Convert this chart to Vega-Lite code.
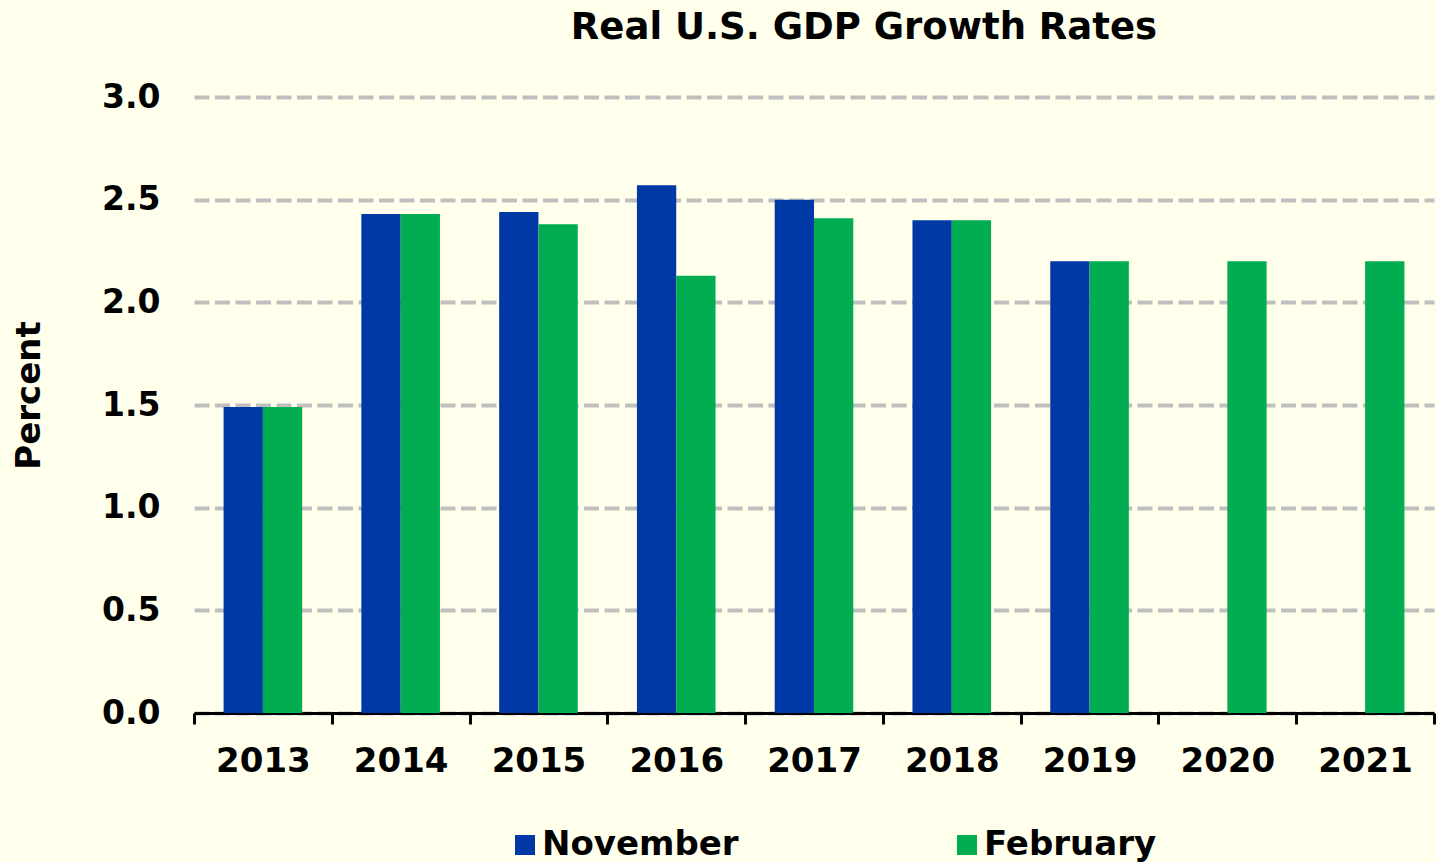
{
  "$schema": "https://vega.github.io/schema/vega-lite/v6.json",
  "autosize": {"type": "none"},
  "width": 1240,
  "height": 616,
  "padding": {"left": 194, "top": 97, "right": 3, "bottom": 149},
  "background": "#FFFFEC",
  "title": {
    "text": "Real U.S. GDP Growth Rates",
    "anchor": "middle",
    "dx": 50,
    "fontSize": 37,
    "font": "DejaVu Sans",
    "fontWeight": "bold",
    "color": "#000000",
    "baseline": "alphabetic",
    "offset": 5
  },
  "config": {
    "view": {"stroke": null},
    "font": "DejaVu Sans"
  },
  "data": {
    "values": [
      {"year": "2013", "series": "November", "value": 1.49},
      {"year": "2013", "series": "February", "value": 1.49},
      {"year": "2014", "series": "November", "value": 2.43},
      {"year": "2014", "series": "February", "value": 2.43},
      {"year": "2015", "series": "November", "value": 2.44},
      {"year": "2015", "series": "February", "value": 2.38},
      {"year": "2016", "series": "November", "value": 2.57},
      {"year": "2016", "series": "February", "value": 2.13},
      {"year": "2017", "series": "November", "value": 2.50},
      {"year": "2017", "series": "February", "value": 2.41},
      {"year": "2018", "series": "November", "value": 2.40},
      {"year": "2018", "series": "February", "value": 2.40},
      {"year": "2019", "series": "November", "value": 2.20},
      {"year": "2019", "series": "February", "value": 2.20},
      {"year": "2020", "series": "February", "value": 2.20},
      {"year": "2021", "series": "February", "value": 2.20}
    ]
  },
  "mark": {"type": "bar", "strokeWidth": 0},
  "encoding": {
    "x": {
      "field": "year",
      "type": "nominal",
      "scale": {"paddingInner": 0, "paddingOuter": 0},
      "axis": {
        "title": null,
        "labelAngle": 0,
        "labelFont": "DejaVu Sans",
        "labelFontSize": 34,
        "labelFontWeight": "bold",
        "labelColor": "#000000",
        "labelPadding": 20,
        "domainColor": "#000000",
        "domainWidth": 3,
        "tickColor": "#000000",
        "tickWidth": 3,
        "tickSize": 11,
        "tickBand": "extent",
        "grid": false
      }
    },
    "xOffset": {
      "field": "series",
      "type": "nominal",
      "scale": {"domain": ["November", "February"], "paddingInner": 0, "paddingOuter": 0.753}
    },
    "y": {
      "field": "value",
      "type": "quantitative",
      "scale": {"domain": [0, 3], "nice": false},
      "axis": {
        "values": [0, 0.5, 1, 1.5, 2, 2.5, 3],
        "format": ".1f",
        "title": "Percent",
        "titleFont": "DejaVu Sans",
        "titleFontSize": 34,
        "titleFontWeight": "bold",
        "titleColor": "#000000",
        "titleX": -165,
        "titleY": 298,
        "titleAngle": -90,
        "titleAlign": "center",
        "titleBaseline": "middle",
        "labelFont": "DejaVu Sans",
        "labelFontSize": 33,
        "labelFontWeight": "bold",
        "labelColor": "#000000",
        "labelPadding": 34,
        "domain": false,
        "ticks": false,
        "grid": true,
        "gridColor": "#BFBFBF",
        "gridWidth": 4,
        "gridDash": [15, 5.5]
      }
    },
    "color": {
      "field": "series",
      "type": "nominal",
      "scale": {"domain": ["November", "February"], "range": ["#0038A6", "#00AD50"]},
      "legend": {
        "title": null,
        "orient": "none",
        "direction": "horizontal",
        "columns": 2,
        "legendX": 314,
        "legendY": 731,
        "symbolType": "square",
        "symbolSize": 400,
        "symbolStrokeWidth": 0,
        "labelFont": "DejaVu Sans",
        "labelFontSize": 34,
        "labelFontWeight": "bold",
        "labelColor": "#000000",
        "labelOffset": 0,
        "labelLimit": 400,
        "columnPadding": 211
      }
    }
  }
}
